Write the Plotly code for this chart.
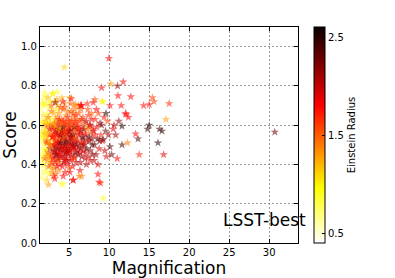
import plotly.graph_objects as go

# ---- data (Magnification, Score, Einstein Radius) ----
magnification = [
    # x 1.3-2
    1.35,1.4,1.42,1.45,1.5,1.5,1.55,1.6,1.6,1.62,1.65,1.7,1.7,1.72,1.75,1.78,1.8,1.8,1.82,1.85,
    1.88,1.9,1.9,1.92,1.95,1.95,1.98,1.4,1.52,1.68,1.74,1.86,1.58,1.46,1.66,
    # x 2-3
    2.02,2.05,2.08,2.1,2.12,2.15,2.18,2.2,2.22,2.25,2.28,2.3,2.32,2.35,2.38,2.4,2.42,2.45,2.48,2.5,
    2.52,2.55,2.58,2.6,2.62,2.65,2.68,2.7,2.72,2.75,2.78,2.8,2.82,2.85,2.88,2.9,2.92,2.95,2.98,2.06,
    2.16,2.26,2.36,2.46,2.56,2.66,2.76,2.86,2.96,2.4,
    # x 3-4
    3.02,3.05,3.08,3.1,3.12,3.15,3.18,3.2,3.22,3.25,3.28,3.3,3.32,3.35,3.38,3.4,3.42,3.45,3.48,3.5,
    3.52,3.55,3.58,3.6,3.62,3.65,3.68,3.7,3.72,3.75,3.78,3.8,3.82,3.85,3.88,3.9,3.92,3.95,3.98,3.06,
    3.16,3.26,3.36,3.46,3.56,3.66,3.76,3.86,3.96,3.2,
    # x 4-5
    4.02,4.05,4.1,4.12,4.15,4.2,4.22,4.25,4.3,4.32,4.35,4.4,4.42,4.45,4.5,4.52,4.55,4.6,4.62,4.65,
    4.7,4.72,4.75,4.8,4.82,4.85,4.9,4.92,4.95,4.98,4.08,4.18,4.28,4.38,4.48,4.58,4.68,4.78,4.88,4.96,
    4.25,4.55,4.05,4.4,4.25,
    # x 5-6
    5.02,5.05,5.1,5.15,5.2,5.22,5.25,5.3,5.35,5.4,5.42,5.45,5.5,5.55,5.6,5.62,5.65,5.7,5.75,5.8,
    5.82,5.85,5.9,5.95,5.98,5.08,5.18,5.28,5.38,5.48,5.58,5.68,5.78,5.88,5.5,5.3,5.7,5.1,
    # x 6-7
    6.02,6.08,6.12,6.18,6.22,6.28,6.32,6.38,6.42,6.48,6.52,6.58,6.62,6.68,6.72,6.78,6.82,6.88,6.92,6.98,
    6.15,6.35,6.55,6.75,6.95,6.45,6.55,6.25,
    # x 7-8
    7.05,7.12,7.2,7.28,7.35,7.42,7.5,7.58,7.65,7.72,7.8,7.88,7.95,7.15,7.32,7.48,7.62,7.78,7.92,7.4,
    7.25,7.85,
    # x 8-9
    8.05,8.15,8.25,8.35,8.45,8.55,8.65,8.75,8.85,8.95,8.1,8.4,8.6,8.8,8.6,8.75,
    # x 9-10
    9.05,9.15,9.25,9.35,9.45,9.55,9.65,9.8,9.9,9.2,9.25,9.6,
    # x 10-12.5
    10.1,10.3,10.1,10.5,10.8,11.0,11.2,11.5,11.6,11.6,12.1,12.3,12.4,10.6,
    # sparse / outliers
    4.4,9.96,10.2,11.05,11.75,9.05,11.1,12.7,17.5,15.4,15.6,14.3,15.0,17.1,15.0,14.8,16.3,16.6,16.1,
    16.8,13.75,13.6,13.3,30.7,8.0,6.5,4.25,5.5,6.55,8.9,4.2,5.25,6.4,8.2,3.5,2.96,1.9,3.25,5.8,9.1,12.05,
    # dense core
    2.6,2.9,3.1,3.3,3.5,3.7,3.9,4.1,4.3,4.5,4.7,4.9,5.1,5.3,5.5,5.7,5.9,6.1,6.3,6.6,
    2.7,3.0,3.2,3.4,3.6,3.8,4.0,4.2,4.4,4.6,4.8,5.0,5.2,5.4,5.6,5.8,6.0,6.4,6.8,7.2,
    2.5,2.8,3.3,3.6,4.1,4.6,5.1,5.6,6.2,7.0,7.6,8.2,3.9,4.4,4.9,5.4,2.3,2.2,2.0,1.9,
]

score = [
    0.52,0.45,0.60,0.38,0.55,0.68,0.48,0.42,0.62,0.35,0.57,0.50,0.73,0.44,0.65,0.39,0.53,0.59,0.47,0.70,
    0.36,0.51,0.63,0.41,0.56,0.75,0.46,0.66,0.33,0.54,0.40,0.61,0.49,0.58,0.71,
    0.48,0.62,0.37,0.55,0.71,0.44,0.58,0.32,0.51,0.66,0.42,0.60,0.53,0.74,0.39,0.57,0.46,0.64,0.50,0.35,
    0.69,0.55,0.43,0.61,0.48,0.72,0.40,0.56,0.63,0.45,0.52,0.67,0.38,0.59,0.49,0.76,0.54,0.43,0.62,0.57,
    0.52,0.47,0.64,0.41,0.58,0.50,0.70,0.36,0.54,0.296,
    0.55,0.43,0.66,0.50,0.38,0.60,0.47,0.72,0.53,0.41,0.63,0.57,0.35,0.49,0.68,0.45,0.59,0.52,0.39,0.64,
    0.48,0.56,0.70,0.42,0.61,0.51,0.37,0.58,0.46,0.66,0.54,0.40,0.62,0.50,0.44,0.57,0.69,0.47,0.53,0.34,
    0.60,0.50,0.45,0.73,0.55,0.42,0.63,0.48,0.58,0.327,
    0.52,0.44,0.63,0.57,0.39,0.49,0.68,0.54,0.46,0.60,0.41,0.55,0.71,0.48,0.36,0.58,0.51,0.65,0.43,0.53,
    0.47,0.61,0.56,0.40,0.50,0.67,0.45,0.59,0.52,0.38,0.74,0.56,0.62,0.44,0.50,0.55,0.42,0.64,0.48,0.57,
    0.34,0.46,0.30,0.69,0.59,
    0.55,0.47,0.62,0.42,0.58,0.51,0.67,0.45,0.60,0.53,0.39,0.64,0.49,0.57,0.44,0.70,0.52,0.61,0.46,0.55,
    0.65,0.41,0.59,0.50,0.63,0.36,0.71,0.54,0.48,0.66,0.59,0.43,0.51,0.57,0.32,0.62,0.68,0.74,
    0.52,0.60,0.45,0.66,0.55,0.49,0.62,0.41,0.57,0.68,0.51,0.44,0.59,0.54,0.64,0.47,0.58,0.50,0.61,0.43,
    0.70,0.37,0.63,0.53,0.56,0.48,0.70,0.34,
    0.55,0.62,0.48,0.58,0.44,0.65,0.52,0.60,0.47,0.56,0.63,0.50,0.58,0.40,0.68,0.54,0.42,0.66,0.45,0.59,
    0.71,0.53,
    0.57,0.50,0.63,0.45,0.59,0.53,0.66,0.48,0.61,0.55,0.42,0.68,0.40,0.52,0.35,0.31,
    0.60,0.52,0.527,0.64,0.47,0.57,0.44,0.62,0.55,0.72,0.228,0.66,
    0.70,0.45,0.49,0.58,0.55,0.43,0.62,0.70,0.595,0.50,0.655,0.51,0.64,0.60,
    0.895,0.94,0.81,0.80,0.82,0.79,0.75,0.745,0.71,0.74,0.72,0.70,0.705,0.63,0.60,0.58,0.58,0.57,0.51,
    0.45,0.45,0.53,0.555,0.565,0.715,0.70,0.30,0.32,0.34,0.305,0.72,0.735,0.70,0.73,0.77,0.76,0.766,0.715,0.706,0.72,0.66,
    0.50,0.54,0.47,0.52,0.58,0.45,0.55,0.49,0.53,0.61,0.46,0.57,0.50,0.43,0.55,0.48,0.53,0.58,0.46,0.51,
    0.44,0.58,0.61,0.46,0.51,0.60,0.48,0.56,0.42,0.52,0.59,0.47,0.54,0.60,0.49,0.62,0.47,0.56,0.50,0.52,
    0.60,0.41,0.56,0.43,0.61,0.49,0.57,0.53,0.58,0.46,0.60,0.55,0.51,0.57,0.62,0.50,0.45,0.61,0.55,0.43,
]

einstein_radius = [
    0.6,0.7,0.8,0.5,0.9,0.7,0.6,0.8,0.9,0.6,1.0,0.7,0.8,0.9,1.1,0.6,0.8,1.2,0.7,0.9,
    0.8,1.0,0.7,0.6,1.3,0.9,0.8,0.6,0.7,1.0,0.9,1.1,0.5,0.6,1.0,
    0.9,1.2,0.8,1.5,1.0,1.3,0.7,1.1,1.6,0.9,1.4,1.8,1.0,1.2,1.5,0.8,1.9,1.1,1.3,1.0,
    0.9,1.7,1.2,1.4,2.1,1.0,1.6,1.3,0.8,1.8,1.1,1.5,1.2,2.0,1.4,1.0,1.3,1.7,0.9,1.1,
    1.6,1.2,1.4,0.8,1.9,1.0,1.5,1.3,1.7,1.3,
    1.5,1.8,1.2,2.0,1.4,1.7,2.3,1.1,1.6,1.9,1.3,2.1,1.5,1.8,1.0,2.4,1.6,1.3,1.9,1.4,
    2.2,1.7,1.2,1.5,2.0,1.8,1.4,2.5,1.6,1.3,1.9,1.7,1.5,2.2,1.8,1.2,1.6,2.0,1.4,1.7,
    1.1,1.9,2.3,1.3,1.8,1.5,1.7,2.1,1.2,1.8,
    1.7,2.0,1.5,2.3,1.8,1.6,1.4,2.5,1.9,1.7,2.1,1.5,1.3,2.2,1.8,1.6,2.4,1.4,1.9,1.7,
    2.0,1.5,2.3,1.8,1.6,1.4,2.1,1.9,1.7,1.5,1.2,2.2,1.8,2.0,2.5,1.6,1.9,1.7,2.3,1.4,
    1.8,2.0,0.9,1.6,2.4,
    1.9,2.2,1.6,2.0,1.8,2.4,1.5,1.9,1.7,2.1,1.8,1.4,2.3,1.6,2.0,1.3,1.9,1.7,2.2,1.5,
    1.8,2.0,1.6,2.5,1.4,1.8,1.5,2.1,1.9,1.6,2.3,1.7,2.0,1.5,1.9,1.6,1.4,1.2,
    2.0,1.7,2.3,1.5,1.9,2.2,1.6,2.0,2.4,1.5,1.8,2.1,1.7,2.5,1.6,1.9,2.2,1.8,1.5,2.0,
    1.4,1.9,1.7,2.3,1.6,2.1,1.8,1.4,
    1.8,2.1,2.4,1.6,2.0,1.7,2.3,1.9,2.2,1.5,1.8,2.4,1.7,2.0,1.6,2.5,1.9,1.5,2.2,1.3,
    1.7,2.1,
    2.0,2.3,1.7,2.1,1.8,2.4,1.6,1.9,2.2,1.7,2.0,1.8,1.9,2.3,1.8,1.8,
    2.2,1.8,2.4,1.7,2.0,2.3,1.9,1.6,2.1,1.0,0.9,2.5,
    1.8,2.3,2.4,1.9,2.1,1.8,2.2,1.8,2.5,2.4,1.8,1.4,1.8,2.0,
    1.1,1.8,1.3,2.2,1.8,1.8,1.8,1.8,1.7,1.6,1.6,1.8,1.8,1.3,2.5,2.5,2.4,2.5,2.5,
    1.9,1.7,2.4,1.8,2.3,1.8,1.8,0.8,1.8,1.4,1.7,1.8,1.8,1.8,1.6,0.9,1.0,0.8,2.2,1.4,1.0,1.8,
    1.6,1.8,2.0,1.7,1.5,1.9,2.1,1.8,1.6,1.7,2.0,1.8,1.9,1.7,2.2,1.8,1.6,1.9,2.0,1.7,
    1.5,1.7,1.4,1.9,1.8,1.6,2.0,1.7,1.9,2.3,1.6,1.8,2.1,1.5,1.9,1.7,2.0,1.8,2.2,1.9,
    1.3,1.6,1.9,2.0,1.5,1.8,2.2,1.6,1.7,1.9,2.0,1.8,2.4,1.7,1.6,2.1,1.2,1.0,0.9,1.4,
]

assert len(magnification) == len(score) == len(einstein_radius), (
    len(magnification), len(score), len(einstein_radius))

x_ticks = [5, 10, 15, 20, 25, 30]
y_ticks = [0.0, 0.2, 0.4, 0.6, 0.8, 1.0]
cbar_ticks = [0.5, 1.5, 2.5]

hot_r = [
    [0.0, "rgb(255,255,255)"],
    [0.254, "rgb(255,255,0)"],
    [0.635, "rgb(255,0,0)"],
    [1.0, "rgb(10,0,0)"],
]

FONT = "DejaVu Sans"

fig = go.Figure(
    go.Scatter(
        x=magnification,
        y=score,
        mode="markers",
        marker=dict(
            symbol="star",
            size=6.5,
            opacity=0.55,
            color=einstein_radius,
            colorscale=hot_r,
            cmin=0.40,
            cmax=2.61,
            line=dict(width=0),
            colorbar=dict(
                x=1.062, xanchor="left", xpad=0,
                y=0.5, yanchor="middle", len=1.0, ypad=0,
                thickness=11,
                outlinecolor="black", outlinewidth=1,
                tickvals=cbar_ticks,
                ticktext=["0.5", "1.5", "2.5"],
                ticks="inside", ticklen=3, tickcolor="black",
                tickfont=dict(family=FONT, size=10, color="black"),
                title=dict(text="Einstein Radius", side="right",
                           font=dict(family=FONT, size=10, color="black")),
            ),
        ),
        showlegend=False,
    )
)

axis_common = dict(
    showline=True, linecolor="black", linewidth=1.3, mirror="ticks",
    showgrid=True, gridcolor="#999999", griddash="2px,2px", gridwidth=1,
    ticks="inside", ticklen=4, tickcolor="black",
    tickfont=dict(family=FONT, size=10, color="black"),
    zeroline=False, automargin=False,
)

fig.update_xaxes(
    range=[1.35, 33.6], tickvals=x_ticks,
    title=dict(text="Magnification", font=dict(family=FONT, size=17, color="black"), standoff=4),
    **axis_common,
)
fig.update_yaxes(
    range=[0.0, 1.1], tickvals=y_ticks, tickformat=".1f",
    title=dict(text="Score", font=dict(family=FONT, size=17, color="black"), standoff=6),
    **axis_common,
)

fig.add_annotation(
    text="LSST-best", xref="paper", yref="paper",
    x=0.70, y=0.105, xanchor="left", yanchor="middle",
    showarrow=False, font=dict(family=FONT, size=17, color="black"),
)

fig.update_layout(
    width=395, height=278,
    margin=dict(l=40, r=97, t=27, b=35, autoexpand=False),
    plot_bgcolor="white", paper_bgcolor="white",
)

fig.write_html(
    "out.html",
    config={"displayModeBar": False},
    post_script="document.body.style.margin='0';document.body.style.padding='0';",
)
